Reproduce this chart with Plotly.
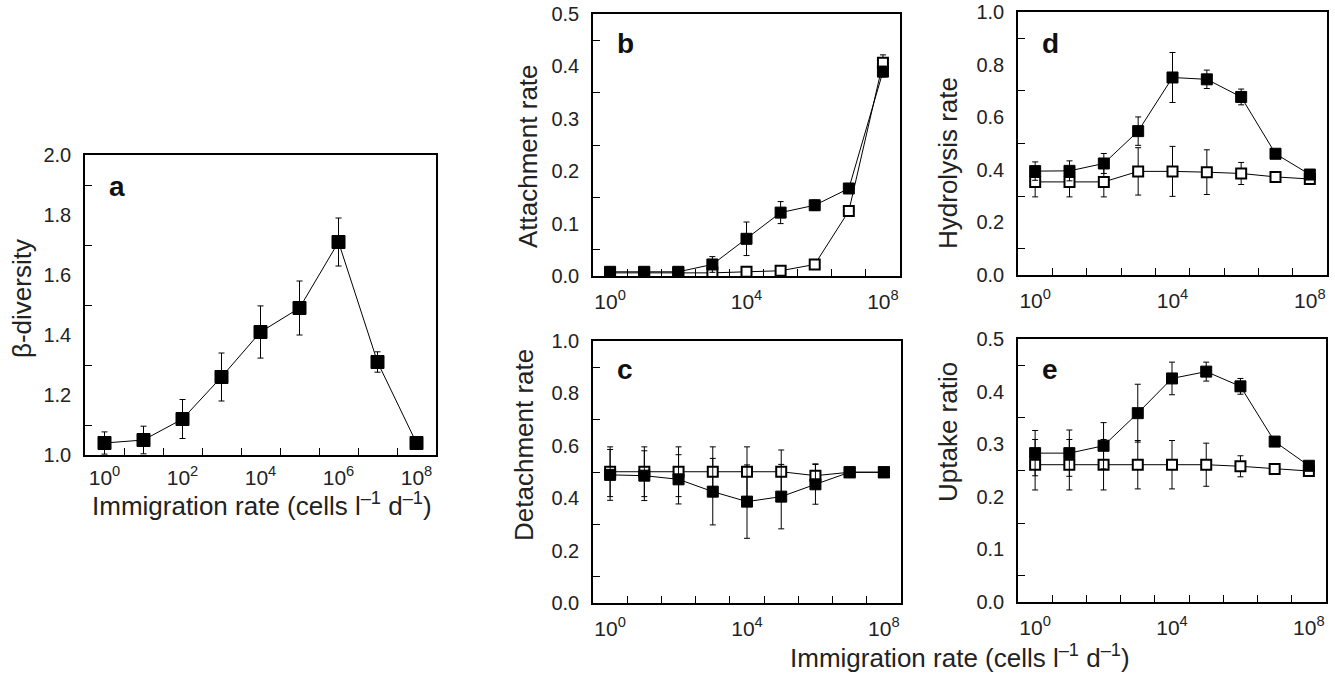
import plotly.graph_objects as go

# ---------------- data ----------------
immigration = [1, 1e1, 1e2, 1e3, 1e4, 1e5, 1e6, 1e7, 1e8]

beta_div = [1.04, 1.05, 1.12, 1.26, 1.41, 1.49, 1.71, 1.31, 1.04]
beta_err = [0.037, 0.046, 0.065, 0.08, 0.087, 0.09, 0.08, 0.034, 0.0]

attach_filled = [0.008, 0.008, 0.008, 0.022, 0.071, 0.121, 0.135, 0.167, 0.39]
attach_filled_err = [0, 0, 0, 0.015, 0.032, 0.021, 0.01, 0.008, 0.01]
attach_open = [0.006, 0.006, 0.006, 0.006, 0.008, 0.01, 0.022, 0.124, 0.407]
attach_open_err = [0, 0, 0, 0, 0, 0, 0, 0, 0.015]

detach_filled = [0.489, 0.486, 0.472, 0.425, 0.387, 0.406, 0.453, 0.499, 0.499]
detach_filled_err = [0.097, 0.095, 0.094, 0.127, 0.14, 0.123, 0.076, 0, 0]
detach_open = [0.501, 0.501, 0.501, 0.501, 0.501, 0.501, 0.486, 0.499, 0.499]
detach_open_err = [0.095, 0.095, 0.095, 0.095, 0.095, 0.083, 0.045, 0, 0]

hydro_filled = [0.395, 0.396, 0.424, 0.547, 0.751, 0.744, 0.677, 0.461, 0.382]
hydro_filled_err = [0.035, 0.038, 0.038, 0.054, 0.095, 0.035, 0.03, 0, 0]
hydro_open = [0.354, 0.354, 0.354, 0.394, 0.394, 0.391, 0.386, 0.373, 0.365]
hydro_open_err = [0.057, 0.057, 0.057, 0.09, 0.095, 0.085, 0.042, 0, 0]

uptake_filled = [0.283, 0.283, 0.297, 0.359, 0.425, 0.438, 0.41, 0.305, 0.259]
uptake_filled_err = [0.043, 0.044, 0.044, 0.055, 0.031, 0.018, 0.015, 0, 0]
uptake_open = [0.261, 0.261, 0.261, 0.261, 0.261, 0.261, 0.258, 0.253, 0.249]
uptake_open_err = [0.048, 0.048, 0.048, 0.046, 0.046, 0.041, 0.02, 0, 0]

xtick_a = [1, 1e2, 1e4, 1e6, 1e8]
xtick_a_text = ["10<sup>0</sup>", "10<sup>2</sup>", "10<sup>4</sup>", "10<sup>6</sup>", "10<sup>8</sup>"]
xtick_bcde = [1, 1e4, 1e8]
xtick_bcde_text = ["10<sup>0</sup>", "10<sup>4</sup>", "10<sup>8</sup>"]
x_minor = [10 ** (k + 0.5) for k in range(8)]

# ---------------- layout helpers ----------------
W, H = 1335, 673
FONT = "Liberation Sans, Arial, Helvetica, sans-serif"
TXT = "#222"


def px(x):
    return x / W


def py(y):
    return 1 - y / H


panels = {
    # name: (left, right, top, bottom) in pixels
    "a": (85, 436, 155, 455),
    "b": (593, 900, 14, 276),
    "c": (593, 901, 341, 603),
    "d": (1018, 1327, 12, 275),
    "e": (1018, 1326, 339, 602),
}

fig = go.Figure()


def add_series(xa, ya, y, err, filled, size):
    fig.add_trace(go.Scatter(
        x=immigration, y=y, xaxis=xa, yaxis=ya,
        mode="lines+markers",
        line=dict(color="black", width=1),
        marker=dict(symbol="square", size=size if filled else size - 1,
                    color="black" if filled else "white",
                    line=dict(color="black", width=1 if filled else 2)),
        error_y=dict(type="data", array=err, visible=True, color="black",
                     thickness=1, width=3),
        showlegend=False, hoverinfo="skip",
    ))


add_series("x", "y", beta_div, beta_err, True, 13)
add_series("x2", "y2", attach_open, attach_open_err, False, 11)
add_series("x2", "y2", attach_filled, attach_filled_err, True, 11)
add_series("x3", "y3", detach_open, detach_open_err, False, 11)
add_series("x3", "y3", detach_filled, detach_filled_err, True, 11)
add_series("x4", "y4", hydro_open, hydro_open_err, False, 11)
add_series("x4", "y4", hydro_filled, hydro_filled_err, True, 11)
add_series("x5", "y5", uptake_open, uptake_open_err, False, 11)
add_series("x5", "y5", uptake_filled, uptake_filled_err, True, 11)


def xaxis_cfg(name, anchor, tv, tt, standoff=6):
    l, r, t, b = panels[name]
    return dict(
        type="log", domain=[px(l), px(r)], anchor=anchor, automargin=False,
        range=[-0.5, 8.5], tickvals=tv, ticktext=tt, ticks="",
        showline=True, linecolor="black", linewidth=1.5, mirror=True,
        showgrid=False, zeroline=False,
        tickfont=dict(family=FONT, size=21, color=TXT),
        ticklabelstandoff=standoff,
        minor=dict(tickvals=x_minor, ticks="inside", ticklen=7,
                   tickcolor="black", tickwidth=1.2, showgrid=False),
    )


def yaxis_cfg(name, anchor, rng, dtick):
    l, r, t, b = panels[name]
    n = int(round((rng[1] - rng[0]) / dtick))
    tv = [rng[0] + i * dtick for i in range(n + 1)]
    mv = [rng[0] + (i + 0.5) * dtick for i in range(n)]
    return dict(
        domain=[py(b), py(t)], anchor=anchor, range=rng, automargin=False,
        tickvals=tv, tickformat=".1f", ticks="",
        showline=True, linecolor="black", linewidth=1.5, mirror=True,
        showgrid=False, zeroline=False,
        tickfont=dict(family=FONT, size=20, color=TXT),
        ticklabelstandoff=8,
        minor=dict(tickvals=mv, ticks="inside", ticklen=7,
                   tickcolor="black", tickwidth=1.2, showgrid=False),
    )


fig.update_layout(
    width=W, height=H,
    margin=dict(l=0, r=0, t=0, b=0, pad=0, autoexpand=False),
    paper_bgcolor="white", plot_bgcolor="white",
    font=dict(family=FONT, color=TXT),
    xaxis=xaxis_cfg("a", "y", xtick_a, xtick_a_text, standoff=3),
    yaxis=yaxis_cfg("a", "x", [1.0, 2.0], 0.2),
    xaxis2=xaxis_cfg("b", "y2", xtick_bcde, xtick_bcde_text),
    yaxis2=yaxis_cfg("b", "x2", [0.0, 0.5], 0.1),
    xaxis3=xaxis_cfg("c", "y3", xtick_bcde, xtick_bcde_text),
    yaxis3=yaxis_cfg("c", "x3", [0.0, 1.0], 0.2),
    xaxis4=xaxis_cfg("d", "y4", xtick_bcde, xtick_bcde_text),
    yaxis4=yaxis_cfg("d", "x4", [0.0, 1.0], 0.2),
    xaxis5=xaxis_cfg("e", "y5", xtick_bcde, xtick_bcde_text),
    yaxis5=yaxis_cfg("e", "x5", [0.0, 0.5], 0.1),
)

annos = []
# panel letters
letters = {"a": (107, 186), "b": (615, 43), "c": (615, 369), "d": (1040, 44), "e": (1040, 369)}
for k, (lx, ly) in letters.items():
    annos.append(dict(text="<b>%s</b>" % k, x=px(lx), y=py(ly), xref="paper", yref="paper",
                      xanchor="left", yanchor="middle", showarrow=False,
                      font=dict(family=FONT, size=28, color="#111")))

# y-axis titles
ytitles = [("β-diversity", 22, 299), ("Attachment rate", 528, 156),
           ("Detachment rate", 524, 445), ("Hydrolysis rate", 948, 163),
           ("Uptake ratio", 948, 432)]
for txt, tx, ty in ytitles:
    annos.append(dict(text=txt, x=px(tx), y=py(ty), xref="paper", yref="paper",
                      xanchor="center", yanchor="middle", textangle=-90, showarrow=False,
                      font=dict(family=FONT, size=26, color=TXT)))

xtitle = "Immigration rate (cells l<sup>–1</sup> d<sup>–1</sup>)"
for tx, ty in [(262, 504), (960, 656)]:
    annos.append(dict(text=xtitle, x=px(tx), y=py(ty), xref="paper", yref="paper",
                      xanchor="center", yanchor="middle", showarrow=False,
                      font=dict(family=FONT, size=26, color=TXT)))

fig.update_layout(annotations=annos)

fig.write_html("out.html", config={"displayModeBar": False},
               post_script="document.body.style.margin='0px';")
